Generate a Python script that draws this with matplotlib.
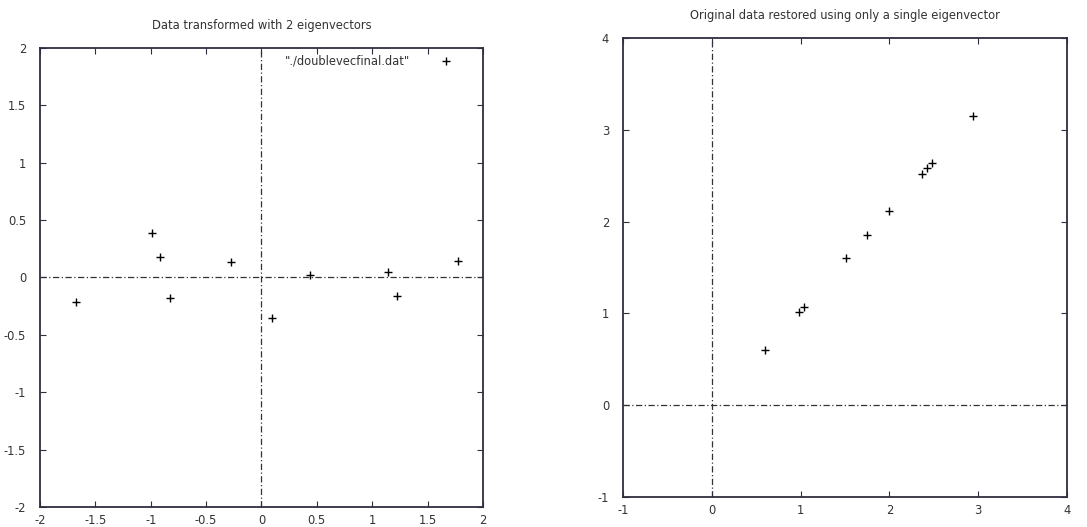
import matplotlib
matplotlib.use("Agg")
import matplotlib.pyplot as plt

# Left panel: data transformed with 2 eigenvectors
trans_x = [-0.827970186, 1.77758033, -0.992197494, -0.274210416, -1.67580142,
           -0.912949103, 0.0991094375, 1.14457216, 0.438046137, 1.22382056]
trans_y = [-0.175115307, 0.142857227, 0.384374989, 0.130417207, -0.209498461,
           0.175282444, -0.349824698, 0.0464172582, 0.0177646297, -0.162675287]

# Right panel: original data restored using one eigenvector
rest_x = [2.37125896, 0.605025583, 2.48258429, 1.99587995, 2.9459812,
          2.42886391, 1.74281635, 1.03412498, 1.51306018, 0.980462153]
rest_y = [2.51870601, 0.603160886, 2.63944472, 2.11159866, 3.14518277,
          2.58326609, 1.84970514, 1.0703612, 1.60570126, 1.01034849]

left_xticks = [-2, -1.5, -1, -0.5, 0, 0.5, 1, 1.5, 2]
left_yticks = [-2, -1.5, -1, -0.5, 0, 0.5, 1, 1.5, 2]
right_xticks = [-1, 0, 1, 2, 3, 4]
right_yticks = [-1, 0, 1, 2, 3, 4]

title_left = "Data transformed with 2 eigenvectors"
title_right = "Original data restored using only a single eigenvector"
key_label = '"./doublevecfinal.dat"'

fig = plt.figure(figsize=(10.87, 5.27), dpi=100)
ax1 = fig.add_axes([0.0368, 0.038, 0.4075, 0.871])
ax2 = fig.add_axes([0.5731, 0.0569, 0.4085, 0.871])

spine_col = "#2e2e40"
txt_col = "#333333"
fs = 8.3

def style(ax, xt, yt):
    ax.set_xticks(xt)
    ax.set_yticks(yt)
    ax.set_xticklabels([f"{v:g}" for v in xt])
    ax.set_yticklabels([f"{v:g}" for v in yt])
    ax.tick_params(direction="in", length=4, width=0.8, top=True, right=True,
                   labelsize=fs, colors=spine_col, labelcolor=txt_col)
    ax.tick_params(axis="x", pad=5)
    ax.tick_params(axis="y", pad=10)
    for s in ax.spines.values():
        s.set_color(spine_col)
        s.set_linewidth(1.3)
    ax.axhline(0, color="#333333", lw=0.9, ls=(0, (5, 2, 1, 2)), zorder=1)
    ax.axvline(0, color="#333333", lw=0.9, ls=(0, (5, 2, 1, 2)), zorder=1)

ax1.set_xlim(-2, 2)
ax1.set_ylim(-2, 2)
style(ax1, left_xticks, left_yticks)
ax1.plot(trans_x, trans_y, ls="none", marker="+", color="black", ms=6, mew=1.0)
ax1.plot([1.67], [1.89], ls="none", marker="+", color="black", ms=6, mew=1.0)
ax1.text(1.34, 1.89, key_label, ha="right", va="center", fontsize=fs, color=txt_col)
ax1.set_title(title_left, fontsize=fs, color=txt_col, pad=14)

ax2.set_xlim(-1, 4)
ax2.set_ylim(-1, 4)
style(ax2, right_xticks, right_yticks)
ax2.plot(rest_x, rest_y, ls="none", marker="+", color="black", ms=6, mew=1.0)
ax2.set_title(title_right, fontsize=fs, color=txt_col, pad=14)

fig.savefig("out.png", dpi=100)
